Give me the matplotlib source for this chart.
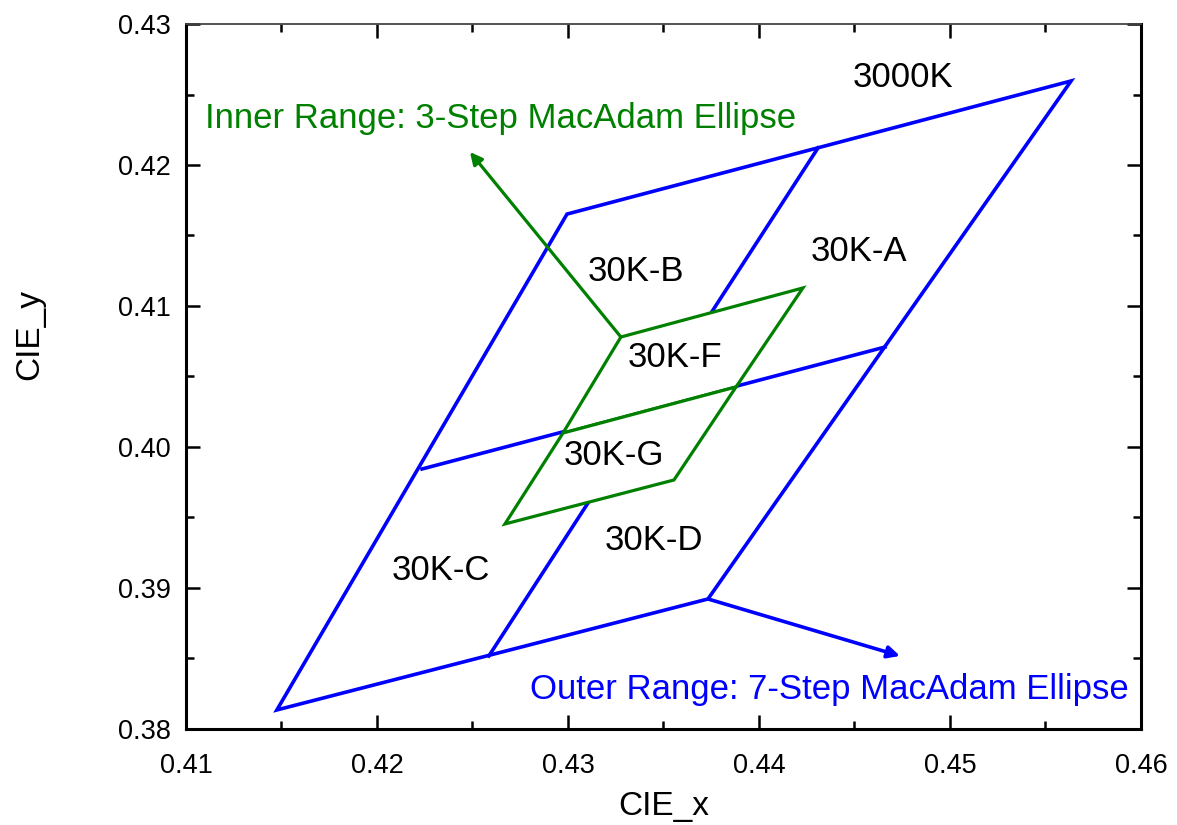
import numpy as np
import matplotlib.pyplot as plt
from matplotlib.patches import Polygon
from matplotlib.ticker import MultipleLocator

plt.rcParams['font.family'] = ['Liberation Sans', 'DejaVu Sans']

# 3000K quadrangle (7-step), corners: bottom-left, top-left, top-right, bottom-right
outer_x = [0.41476, 0.42995, 0.45634, 0.43733]
outer_y = [0.38135, 0.41652, 0.42596, 0.38922]
# centre lines dividing it into 30K-A/B/C/D
hmid_x = [0.42236, 0.44660]
hmid_y = [0.39844, 0.40709]
vmid_x = [0.42586, 0.44309]
vmid_y = [0.38518, 0.42121]

# inner range (3-step) split into 30K-F (top) and 30K-G (bottom)
inner_x = [0.42670, 0.43277, 0.44230, 0.43555]
inner_y = [0.39454, 0.40780, 0.41128, 0.39766]
imid_x = [0.42974, 0.43880]
imid_y = [0.40099, 0.40426]

labels = ["3000K", "30K-A", "30K-B", "30K-C", "30K-D", "30K-F", "30K-G"]
label_x = [0.44754, 0.44524, 0.43356, 0.42335, 0.43450, 0.43560, 0.43241]
label_y = [0.42624, 0.41390, 0.41248, 0.39121, 0.39340, 0.40638, 0.39943]

blue = (0, 0, 1)
green = (0, 0.5, 0)

fig = plt.figure(figsize=(11.77, 8.25), dpi=100)
ax = fig.add_axes([0.158, 0.1164, 0.8114, 0.8545])

ax.add_patch(Polygon(list(zip(outer_x, outer_y)), closed=True, fill=False,
                     edgecolor=blue, lw=2.6, joinstyle='miter', zorder=2))
ax.plot(hmid_x, hmid_y, color=blue, lw=2.6, zorder=2)
ax.plot(vmid_x, vmid_y, color=blue, lw=2.6, zorder=2)

# F and G quads, white-filled so they sit over the blue lines
f_pts = [(inner_x[1], inner_y[1]), (inner_x[2], inner_y[2]),
         (imid_x[1], imid_y[1]), (imid_x[0], imid_y[0])]
g_pts = [(imid_x[0], imid_y[0]), (imid_x[1], imid_y[1]),
         (inner_x[3], inner_y[3]), (inner_x[0], inner_y[0])]
for pts in (f_pts, g_pts):
    ax.add_patch(Polygon(pts, closed=True, facecolor='white', edgecolor=green,
                         lw=2.3, joinstyle='miter', zorder=3))

for t, x, y in zip(labels, label_x, label_y):
    ax.text(x, y, t, fontsize=25, ha='center', va='center', zorder=5)

# arrows + range notes
ax.annotate("", xy=(0.42487, 0.42092), xytext=(inner_x[1], inner_y[1]),
            arrowprops=dict(arrowstyle='-|>', color=green, lw=2.3,
                            mutation_scale=18, shrinkA=0, shrinkB=0), zorder=4)
ax.annotate("", xy=(0.44738, 0.38518), xytext=(outer_x[3], outer_y[3]),
            arrowprops=dict(arrowstyle='-|>', color=blue, lw=2.6,
                            mutation_scale=18, shrinkA=0, shrinkB=0), zorder=4)
ax.text(0.41099, 0.42333, "Inner Range: 3-Step MacAdam Ellipse", color=green,
        fontsize=25, ha='left', va='center')
ax.text(0.42801, 0.38277, "Outer Range: 7-Step MacAdam Ellipse", color=blue,
        fontsize=25, ha='left', va='center')

ax.set_xlim(0.41, 0.46)
ax.set_ylim(0.38, 0.43)
ax.xaxis.set_major_locator(MultipleLocator(0.01))
ax.xaxis.set_minor_locator(MultipleLocator(0.005))
ax.yaxis.set_major_locator(MultipleLocator(0.01))
ax.yaxis.set_minor_locator(MultipleLocator(0.005))
ax.xaxis.set_major_formatter(plt.FormatStrFormatter('%.2f'))
ax.yaxis.set_major_formatter(plt.FormatStrFormatter('%.2f'))

ax.tick_params(which='both', direction='in', labelsize=19.5, width=1.8, pad=11)
ax.tick_params(axis='x', which='both', pad=17)
ax.tick_params(which='major', length=10)
ax.tick_params(which='minor', length=6)
ax.tick_params(which='both', top=True, right=True)
for s in ['left', 'bottom', 'right']:
    ax.spines[s].set_linewidth(2.2)
ax.spines['top'].set_linewidth(1.3)
ax.spines['top'].set_color('#444444')

ax.set_xlabel("CIE_x", fontsize=24)
ax.set_ylabel("CIE_y", fontsize=24)
# a bit higher than the original so the underscore is not clipped
ax.xaxis.set_label_coords(0.5, -0.088)
ax.yaxis.set_label_coords(-0.147, 0.56)

fig.savefig("out.png", dpi=100)
